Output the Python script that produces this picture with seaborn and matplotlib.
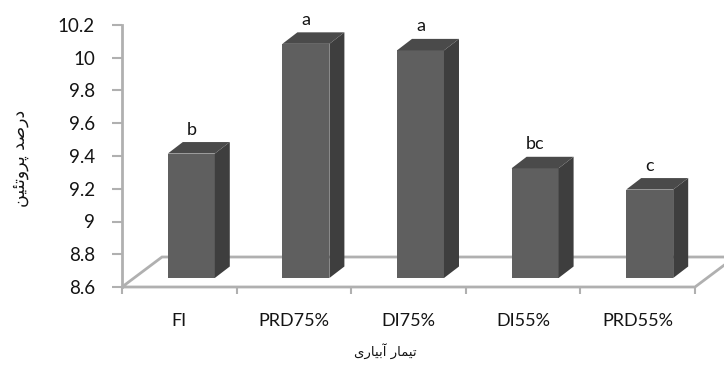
import matplotlib
matplotlib.use("Agg")
import matplotlib.pyplot as plt
from matplotlib.patches import Polygon
from matplotlib.transforms import ScaledTranslation
from matplotlib.ticker import FixedLocator
import seaborn as sns

# Protein content by irrigation treatment
treatments = ["FI", "PRD75%", "DI75%", "DI55%", "PRD55%"]
protein = [9.36, 10.03, 9.99, 9.27, 9.14]
groups = ["b", "a", "a", "bc", "c"]
ytick_values = [8.6, 8.8, 9.0, 9.2, 9.4, 9.6, 9.8, 10.0, 10.2]
ytick_labels = ["8.6", "8.8", "9", "9.2", "9.4", "9.6", "9.8", "10", "10.2"]

# Persian axis titles (pre-joined letter forms, right-to-left order)
ylabel_fa = "\ufee6\ufbff\ufe8c\ufe97\ufeed\ufeae\ufb58 \ufeaa\ufebb\ufead\ufea9"
xlabel_fa = "\ufbfc\ufead\ufe8e\ufbff\ufe91\ufe81 \ufead\ufe8e\ufee4\ufbff\ufe97"

sns.set_theme(style="white")
plt.rcParams["font.family"] = ["Lato", "DejaVu Sans"]

DPI = 100
fig = plt.figure(figsize=(7.24, 3.72), dpi=DPI)
ax = fig.add_axes([122 / 724, 85 / 372, 573 / 724, 262 / 372])

front = "#5f5f5f"
side = "#3e3e3e"
top = "#4a4a4a"
line_gray = "#b0b0b0"
text_col = "#141414"

sns.barplot(x=treatments, y=protein, color=front, saturation=1, width=0.41,
            ax=ax, edgecolor="none", zorder=3)

ymin, ymax = ytick_values[0], ytick_values[-1]
ax.set_xlim(-0.5, len(treatments) - 0.5)
ax.set_ylim(ymin, ymax)

# pixel -> data unit conversion for the oblique depth
ax_w = 573.0
ax_h = 262.0
sx = (len(treatments)) / ax_w
sy = (ymax - ymin) / ax_h

# bars sit a little behind the front edge of the floor
shift = ax.transData + ScaledTranslation(12 / DPI, 9 / DPI, fig.dpi_scale_trans)
dx, dy = 15 * sx, 11.5 * sy

# floor outline
fdx, fdy = 40 * sx, 30 * sy
floor = Polygon([(-0.5, ymin), (4.5, ymin), (4.5 + fdx, ymin + fdy),
                 (-0.5 + fdx, ymin + fdy)], closed=True, fill=False,
                edgecolor=line_gray, lw=2, clip_on=False, zorder=1)
ax.add_patch(floor)

for p, v, g in zip(ax.patches[:len(protein)], protein, groups):
    x0 = p.get_x()
    w = p.get_width()
    p.set_y(ymin)
    p.set_height(v - ymin)
    p.set_transform(shift)
    p.set_clip_on(False)
    x1 = x0 + w
    side_face = Polygon([(x1, ymin), (x1 + dx, ymin + dy), (x1 + dx, v + dy), (x1, v)],
                        closed=True, facecolor=side, edgecolor="none",
                        transform=shift, clip_on=False, zorder=3)
    top_face = Polygon([(x0, v), (x0 + dx, v + dy), (x1 + dx, v + dy), (x1, v)],
                       closed=True, facecolor=top, edgecolor="none",
                       transform=shift, clip_on=False, zorder=3)
    ax.add_patch(side_face)
    ax.add_patch(top_face)
    ax.annotate(g, xy=(x0 + w / 2, v), xytext=(12, 28), textcoords="offset pixels",
                ha="center", va="baseline", fontsize=13, color=text_col,
                annotation_clip=False)

for s in ["top", "right", "bottom"]:
    ax.spines[s].set_visible(False)
ax.spines["left"].set_color(line_gray)
ax.spines["left"].set_linewidth(2)

ax.set_yticks(ytick_values)
ax.set_yticklabels(ytick_labels)
ax.tick_params(axis="y", which="major", left=True, length=7, width=1.5,
               color=line_gray, pad=12.5, labelsize=13.5, labelcolor=text_col)
ax.xaxis.set_minor_locator(FixedLocator([i - 0.5 for i in range(len(treatments) + 1)]))
ax.tick_params(axis="x", which="minor", bottom=True, length=5, width=1.5, color=line_gray)
ax.tick_params(axis="x", which="major", bottom=False, length=0, pad=19,
               labelsize=13, labelcolor=text_col)
ax.set_xlabel(xlabel_fa, family="DejaVu Sans", fontsize=9.5, color=text_col)
ax.xaxis.set_label_coords(0.459, -0.215)
ax.set_ylabel(ylabel_fa, family="DejaVu Sans", fontsize=12.5, color=text_col)
ax.yaxis.set_label_coords(-0.163, 0.49)
ax.grid(False)

fig.savefig("out.png", dpi=DPI)
